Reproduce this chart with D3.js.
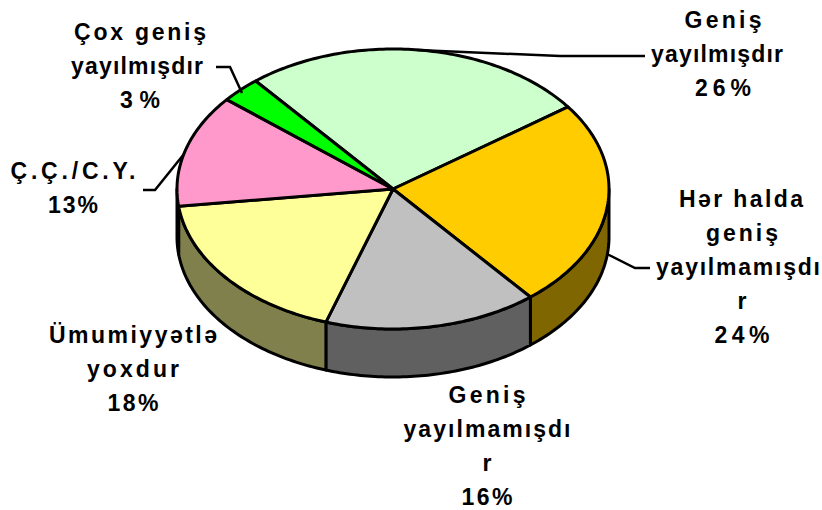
<!DOCTYPE html>
<html><head><meta charset="utf-8">
<script src="https://cdn.jsdelivr.net/npm/d3@7/dist/d3.min.js"></script>
<style>html,body{margin:0;background:#fff}svg{display:block}text{font-family:"Liberation Sans",Arial,sans-serif;font-weight:700;font-size:23px;fill:#000}</style>
</head><body><svg id="c" width="822" height="510"></svg>
<script>
const categories = ["Geniş yayılmışdır","Hər halda geniş yayılmamışdır","Geniş yayılmamışdır","Ümumiyyətlə yoxdur","Ç.Ç./C.Y.","Çox geniş yayılmışdır"];
const values = [26,24,16,18,13,3];
const topColors = ["#ccffcc","#ffcc00","#c0c0c0","#ffff99","#ff99cc","#00ff00"];
const sideColors = ["#668066","#806600","#606060","#80804d","#804d66","#008000"];
const labelLines = [["Geniş","yayılmışdır","26%"],["Hər halda","geniş","yayılmamışdı","r","24%"],["Geniş","yayılmamışdı","r","16%"],["Ümumiyyətlə","yoxdur","18%"],["Ç.Ç./C.Y.","13%"],["Çox geniş","yayılmışdır","3%"]];

const cx=393, cy=189, rx=216, ry=140, depth=48, lh=34;
const labelPos=[[723,28],[742,207],[487,403],[133,343],[73,179],[140,40]];
const lineWidths=[[77,132,56],[124,72,164,13,55],[77,167,13,51],[168,92,51],[125,50],[132,132,40]];
const lineShift=[[0,-6,0],[-1,0,-4,0,0],[0,0,0,0],[0,0,0],[0,0],[0,-3,0]];
const leaders=[[[417,50],[560,56],[645,56]],[[607,254],[635,268],[650,268]],null,null,[[143,190],[155,190],[184,154]],[[216,67],[230,67],[242,93]]];

const start=-39.5*Math.PI/180;
const arcs=d3.pie().sort(null).startAngle(start).endAngle(start+2*Math.PI)(values);
const px=a=>cx+rx*Math.sin(a), py=(a,d=0)=>cy-ry*Math.cos(a)+d;
const line=d3.line();
const samples=(a0,a1)=>{const n=Math.max(2,Math.ceil((a1-a0)*60));return d3.range(n+1).map(i=>a0+(a1-a0)*i/n)};
const svg=d3.select("#c");
const st=g=>g.attr("stroke","#000").attr("stroke-width",3).attr("stroke-linejoin","round");

arcs.forEach((d,i)=>{
  const a0=Math.max(d.startAngle,Math.PI/2), a1=Math.min(d.endAngle,3*Math.PI/2);
  if(a1<=a0) return;
  const s=samples(a0,a1);
  const pts=s.map(a=>[px(a),py(a)]).concat(s.slice().reverse().map(a=>[px(a),py(a,depth)]));
  svg.append("path").attr("d",line(pts)+"Z").attr("fill",sideColors[i]).call(st);
});
arcs.forEach((d,i)=>{
  const pts=[[cx,cy]].concat(samples(d.startAngle,d.endAngle).map(a=>[px(a),py(a)]));
  svg.append("path").attr("d",line(pts)+"Z").attr("fill",topColors[i]).call(st);
});
leaders.forEach(l=>{ if(l) svg.append("path").attr("d",line(l)).attr("fill","none").attr("stroke","#000").attr("stroke-width",2.5); });
labelLines.forEach((ls,i)=>{
  ls.forEach((s,j)=>{
    const t=svg.append("text").attr("x",labelPos[i][0]+lineShift[i][j]).attr("y",labelPos[i][1]+j*lh).attr("text-anchor","middle").text(s);
    if(s.length>1) t.attr("textLength",lineWidths[i][j]).attr("lengthAdjust","spacing");
  });
});
</script></body></html>
